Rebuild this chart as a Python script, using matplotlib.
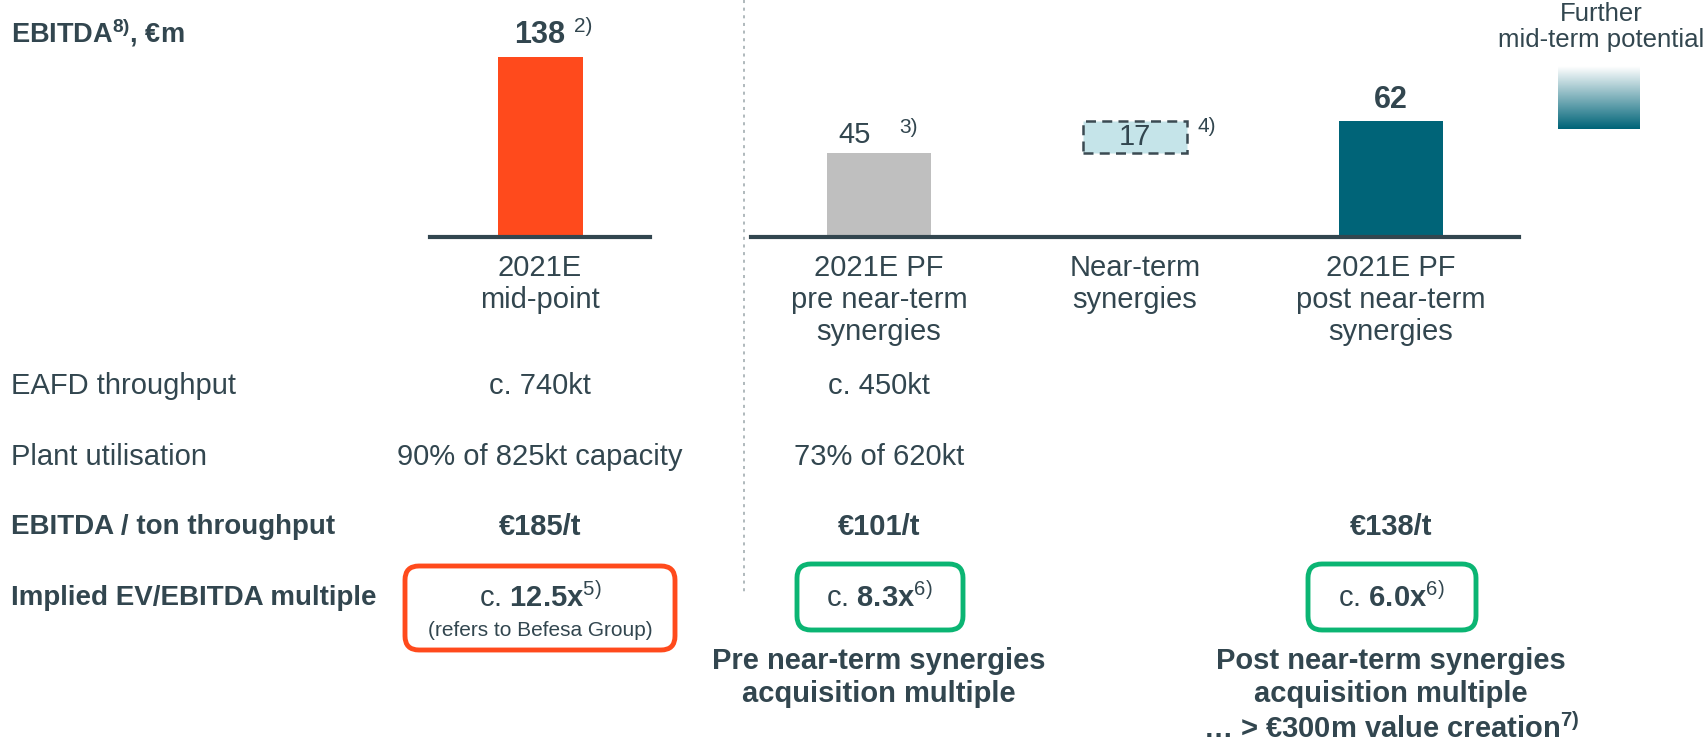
import numpy as np
import matplotlib.pyplot as plt
from matplotlib.patches import FancyBboxPatch
from matplotlib.colors import LinearSegmentedColormap

plt.rcParams['font.family'] = ['Liberation Sans', 'DejaVu Sans']
plt.rcParams['mathtext.fontset'] = 'custom'
plt.rcParams['mathtext.rm'] = 'Liberation Sans'
plt.rcParams['mathtext.it'] = 'Liberation Sans:italic'
plt.rcParams['mathtext.bf'] = 'Liberation Sans:bold'

# datos
left_cats = ["2021E\nmid-point"]
left_vals = [138]
right_cats = ["2021E PF\npre near-term\nsynergies", "Near-term\nsynergies",
              "2021E PF\npost near-term\nsynergies"]
pre_val = 45
syn_val = 17
post_val = 62

row_labels = ["EAFD throughput", "Plant utilisation", "EBITDA / ton throughput",
              "Implied EV/EBITDA multiple"]
throughput = ["c. 740kt", "c. 450kt", ""]
utilisation = ["90% of 825kt capacity", "73% of 620kt", ""]
ebitda_ton = ["€185/t", "€101/t", "€138/t"]
multiples = ["12.5x", "8.3x", "6.0x"]
mult_notes = ["5)", "6)", "6)"]
captions = ["", "Pre near-term synergies\nacquisition multiple",
            "Post near-term synergies\nacquisition multiple\n… > €300m value creation$^{\\mathbf{7)}}$"]

dark = '#32464F'
orange = '#FF4A1C'
green = '#0BB573'
teal = '#006478'

W, H = 1707, 743
fig = plt.figure(figsize=(W / 100, H / 100), dpi=100)

# capa de fondo en pixeles
ov = fig.add_axes([0, 0, 1, 1])
ov.set_xlim(0, W)
ov.set_ylim(H, 0)
ov.axis('off')

def fpos(x0, x1, ybase, hpx):
    return [x0 / W, (H - ybase) / H, (x1 - x0) / W, hpx / H]

# barras izquierda
pxl = 180 / 138
axl = fig.add_axes(fpos(430, 650, 237, 170 * pxl))
axl.bar(0, left_vals[0], width=85 / 256, color=orange, zorder=2)
axl.set_xlim(-110 / 256, 110 / 256)
axl.set_ylim(0, 170)

# barras derecha
pxr = 116 / 62
axr = fig.add_axes(fpos(751, 1519, 237, 120 * pxr))
bw = 104 / 256
axr.bar(0, pre_val, width=bw, color='#BFBFBF', zorder=2)
axr.bar(1, syn_val, bottom=pre_val, width=bw, facecolor='#C5E4E9', edgecolor='#3B4A52',
        linestyle=(0, (4, 2.5)), linewidth=1.8, zorder=2)
axr.bar(2, post_val, width=bw, color=teal, zorder=2)
axr.set_xlim(-0.5, 2.5)
axr.set_ylim(0, 120)

for ax, cats in [(axl, left_cats), (axr, right_cats)]:
    ax.patch.set_alpha(0)
    for s in ['top', 'left', 'right']:
        ax.spines[s].set_visible(False)
    ax.spines['bottom'].set_linewidth(3)
    ax.spines['bottom'].set_color(dark)
    ax.set_yticks([])
    ax.set_xticks(range(len(cats)), cats)
    ax.tick_params(axis='x', length=0, pad=12, labelsize=21, labelcolor=dark)
    for t in ax.get_xticklabels():
        t.set_linespacing(1.2)

def lab(ax, x, y, s, dx, dy, **kw):
    ax.annotate(s, (x, y), xytext=(dx, dy), textcoords='offset pixels',
                ha='center', va='center', color=dark, **kw)

lab(axl, 0, left_vals[0], "138", 0, 22, fontsize=22, fontweight='bold')
lab(axl, 0, left_vals[0], "2)", 43, 31, fontsize=15)
lab(axr, 0, pre_val, "45", -24, 18, fontsize=21)
lab(axr, 0, pre_val, "3)", 30, 25, fontsize=15)
lab(axr, 1, pre_val + syn_val / 2, "17", 0, 0, fontsize=21)
lab(axr, 1, pre_val + syn_val, "4)", 72, -5, fontsize=15)
lab(axr, 2, post_val, "62", 0, 21, fontsize=22, fontweight='bold')

# titulo
ov.text(11, 33, "EBITDA$^{\\mathbf{8)}}$, €m", fontsize=19.5, fontweight='bold',
        color=dark, ha='left', va='center')

# separador
ov.plot([744, 744], [0, 593], linestyle=(0, (2, 3)), color='#9AA5AA', lw=1.1)

# potencial
grad = np.linspace(0, 1, 100).reshape(-1, 1)
cmap = LinearSegmentedColormap.from_list('g', ['#FFFFFF', teal])
ov.imshow(grad, cmap=cmap, extent=(1558, 1640, 129, 66), aspect='auto')
ov.set_xlim(0, W)
ov.set_ylim(H, 0)
ov.text(1704, 27, "Further\nmid-term potential", fontsize=18.5, color=dark,
        ha='right', va='center', multialignment='center', linespacing=1.15)

# tabla
cols = [540, 879, 1391]
rows_y = [386, 457, 527, 598]
for lbl, y, bold in zip(row_labels, rows_y, [False, False, True, True]):
    ov.text(11, y, lbl, fontsize=20 if bold else 21, color=dark, ha='left', va='center',
            fontweight='bold' if bold else 'normal')
for vals, y, bold in [(throughput, rows_y[0], False), (utilisation, rows_y[1], False),
                      (ebitda_ton, rows_y[2], True)]:
    for x, v in zip(cols, vals):
        ov.text(x, y, v, fontsize=21, color=dark, ha='center', va='center',
                fontweight='bold' if bold else 'normal')

# cajas de multiplos
boxes = [(405, 566, 270, 84, orange), (797, 564, 166, 66, green), (1308, 564, 168, 66, green)]
for (bx, by, bwid, bh, c) in boxes:
    ov.add_patch(FancyBboxPatch((bx, by), bwid, bh, boxstyle="round,pad=0,rounding_size=14",
                                facecolor='white', edgecolor=c, linewidth=3.5))
for x, m, n in zip(cols, multiples, mult_notes):
    ov.text(x, rows_y[3], "c. $\\mathbf{%s}^{%s}$" % (m, n), fontsize=21, color=dark,
            ha='center', va='center')
ov.text(cols[0], 630, "(refers to Befesa Group)", fontsize=15, color=dark,
        ha='center', va='center')

for x, c in zip(cols, captions):
    if c:
        ov.text(x, 647, c, fontsize=21, fontweight='bold', color=dark, ha='center',
                va='top', linespacing=1.22)

fig.savefig("out.png", dpi=100)
